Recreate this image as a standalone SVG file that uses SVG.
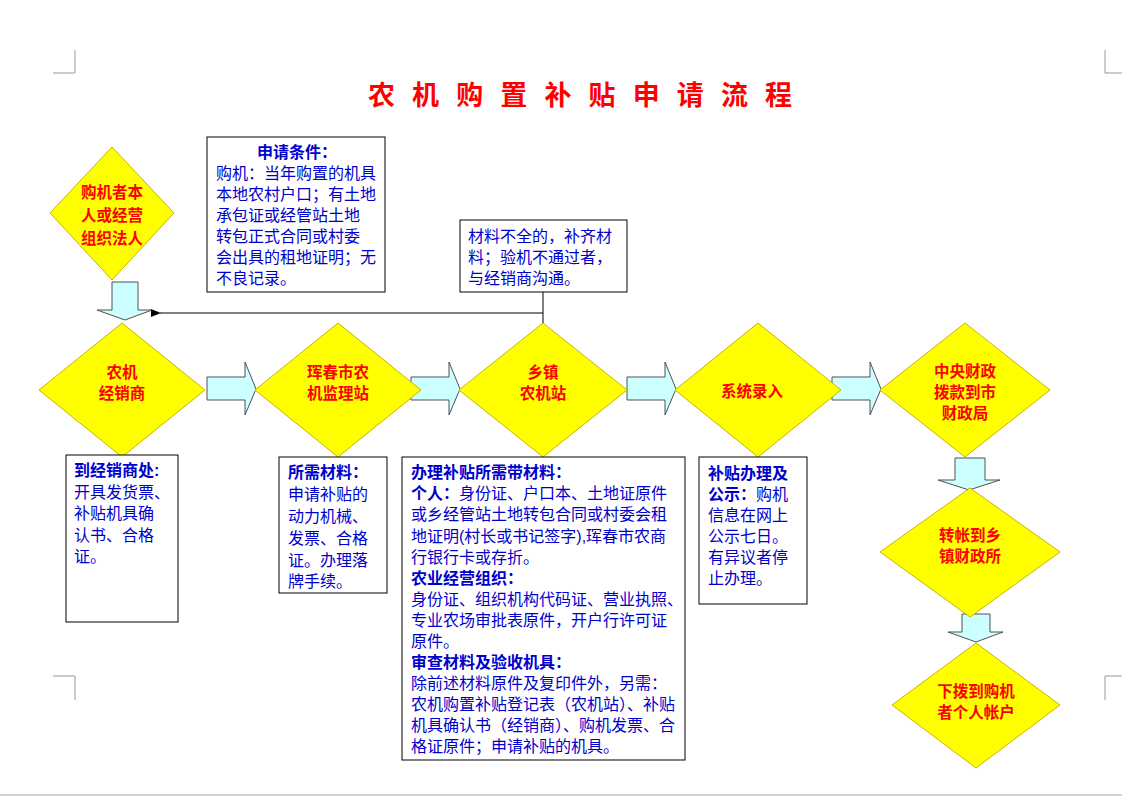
<svg xmlns="http://www.w3.org/2000/svg" width="1122" height="797" viewBox="0 0 1122 797">
<defs>
<style>
.d{fill:#FFFF00;stroke:#C8B400;stroke-width:1}
.a{fill:#CCFFFF;stroke:#505050;stroke-width:1}
.b{fill:#fff;stroke:#000;stroke-width:1}
.dt{font-family:"Liberation Sans","Noto Sans CJK SC",sans-serif;font-size:15.5px;font-weight:bold;fill:#FF0000;text-anchor:middle}
.t{font-family:"Liberation Sans","Noto Sans CJK SC",sans-serif;font-size:16px;fill:#0000CC}
.h{font-weight:bold}
.cm{stroke:#999;stroke-width:1;fill:none}
</style>
<marker id="m" markerWidth="10" markerHeight="8" refX="1" refY="4" orient="auto" markerUnits="userSpaceOnUse"><path d="M10,0 L0,4 L10,8 z" fill="#000"/></marker>
</defs>
<rect width="1122" height="797" fill="#fff"/>
<path class="cm" d="M53,73 H75 V50 M1105,50 V73 H1122 M53,676 H75 V700 M1105,700 V676 H1122"/>
<line x1="0" y1="795" x2="1122" y2="795" stroke="#aaa"/>
<text x="368" y="105" textLength="424" lengthAdjust="spacing" font-family="Liberation Sans,Noto Sans CJK SC,sans-serif" font-size="27" font-weight="bold" fill="#FF0000">农 机 购 置 补 贴 申 请 流 程</text>
<g id="connectors">
<path class="a" d="M112,282 H138 V310 H152 L125,320 L97,310 H112 Z"/>
<path d="M543,292 V313 H160" stroke="#000" fill="none" marker-end="url(#m)"/>
<line x1="543" y1="313" x2="543" y2="323" stroke="#000"/>
<path class="a" d="M207,377 H245 V362 L256,389 L245,415 V400 H207 Z"/>
<path class="a" d="M411,377 H449 V362 L460,389 L449,415 V400 H411 Z"/>
<path class="a" d="M627,377 H665 V362 L676,389 L665,415 V400 H627 Z"/>
<path class="a" d="M832,377 H870 V362 L881,389 L870,415 V400 H832 Z"/>
<path class="a" d="M955,458 H985 V480 H1000 L969,490 L938,480 H955 Z"/>
<path class="a" d="M962,614 H990 V632 H1003 L976,642 L948,632 H962 Z"/>
</g>
<g id="n0"><path class="d" d="M112,147 L174,213 L112,280 L50,213 Z"/><text class="dt"><tspan x="112" y="198">购机者本</tspan><tspan x="112" y="221">人或经营</tspan><tspan x="112" y="244">组织法人</tspan></text></g>
<g id="n1"><path class="d" d="M122,323 L205,390 L122,457 L39,390 Z"/><text class="dt"><tspan x="122" y="378">农机</tspan><tspan x="122" y="399">经销商</tspan></text></g>
<g id="n2"><path class="d" d="M338,323 L421,390 L338,457 L255,390 Z"/><text class="dt"><tspan x="338" y="378">珲春市农</tspan><tspan x="338" y="399">机监理站</tspan></text></g>
<g id="n3"><path class="d" d="M543,323 L627,390 L543,457 L459,390 Z"/><text class="dt"><tspan x="543" y="378">乡镇</tspan><tspan x="543" y="399">农机站</tspan></text></g>
<g id="n4"><path class="d" d="M758,323 L841,390 L758,457 L675,390 Z"/><text class="dt" x="752" y="397">系统录入</text></g>
<g id="n5"><path class="d" d="M965,323 L1050,390 L965,457 L880,390 Z"/><text class="dt"><tspan x="965" y="377">中央财政</tspan><tspan x="965" y="398">拨款到市</tspan><tspan x="965" y="419">财政局</tspan></text></g>
<g id="n6"><path class="d" d="M970,488 L1060,552 L970,617 L880,552 Z"/><text class="dt"><tspan x="970" y="541">转帐到乡</tspan><tspan x="970" y="562">镇财政所</tspan></text></g>
<g id="n7"><path class="d" d="M976,643 L1060,705 L976,768 L892,705 Z"/><text class="dt"><tspan x="976" y="697">下拨到购机</tspan><tspan x="976" y="718">者个人帐户</tspan></text></g>
<g id="box1"><rect class="b" x="207" y="137" width="178" height="155"/><text class="t" font-size="15.5"><tspan class="h" x="257" y="158">申请条件：</tspan><tspan x="216" y="179">购机：当年购置的机具</tspan><tspan x="216" y="200">本地农村户口；有土地</tspan><tspan x="216" y="221">承包证或经管站土地</tspan><tspan x="216" y="242">转包正式合同或村委</tspan><tspan x="216" y="263">会出具的租地证明；无</tspan><tspan x="216" y="284">不良记录。</tspan></text></g>
<g id="box2"><rect class="b" x="460" y="220" width="167" height="72"/><text class="t" font-size="15.5"><tspan x="468" y="242">材料不全的，补齐材</tspan><tspan x="468" y="263">料；验机不通过者，</tspan><tspan x="468" y="284">与经销商沟通。</tspan></text></g>
<g id="box3"><rect class="b" x="66" y="455" width="112" height="167"/><text class="t"><tspan class="h" x="74" y="476">到经销商处:</tspan><tspan x="74" y="498">开具发货票、</tspan><tspan x="74" y="519">补贴机具确</tspan><tspan x="74" y="541">认书、合格</tspan><tspan x="74" y="562">证。</tspan></text></g>
<g id="box4"><rect class="b" x="279" y="457" width="108" height="136"/><text class="t"><tspan class="h" x="288" y="478">所需材料：</tspan><tspan x="288" y="500">申请补贴的</tspan><tspan x="288" y="522">动力机械、</tspan><tspan x="288" y="544">发票、合格</tspan><tspan x="288" y="566">证。办理落</tspan><tspan x="288" y="587">牌手续。</tspan></text></g>
<g id="box5"><rect class="b" x="402" y="457" width="283" height="303"/><text class="t"><tspan class="h" x="411" y="478">办理补贴所需带材料：</tspan><tspan x="411" y="499"><tspan class="h">个人：</tspan>身份证、户口本、土地证原件</tspan><tspan x="411" y="520">或乡经管站土地转包合同或村委会租</tspan><tspan x="411" y="542">地证明(村长或书记签字),珲春市农商</tspan><tspan x="411" y="563">行银行卡或存折。</tspan><tspan class="h" x="411" y="584">农业经营组织：</tspan><tspan x="411" y="605">身份证、组织机构代码证、营业执照、</tspan><tspan x="411" y="626">专业农场审批表原件，开户行许可证</tspan><tspan x="411" y="647">原件。</tspan><tspan class="h" x="411" y="668">审查材料及验收机具：</tspan><tspan x="411" y="689">除前述材料原件及复印件外，另需：</tspan><tspan x="411" y="710">农机购置补贴登记表（农机站）、补贴</tspan><tspan x="411" y="731">机具确认书（经销商）、购机发票、合</tspan><tspan x="411" y="752">格证原件；申请补贴的机具。</tspan></text></g>
<g id="box6"><rect class="b" x="699" y="457" width="108" height="147"/><text class="t"><tspan class="h" x="708" y="479">补贴办理及</tspan><tspan x="708" y="500"><tspan class="h">公示：</tspan>购机</tspan><tspan x="708" y="521">信息在网上</tspan><tspan x="708" y="542">公示七日。</tspan><tspan x="708" y="563">有异议者停</tspan><tspan x="708" y="584">止办理。</tspan></text></g>
</svg>
